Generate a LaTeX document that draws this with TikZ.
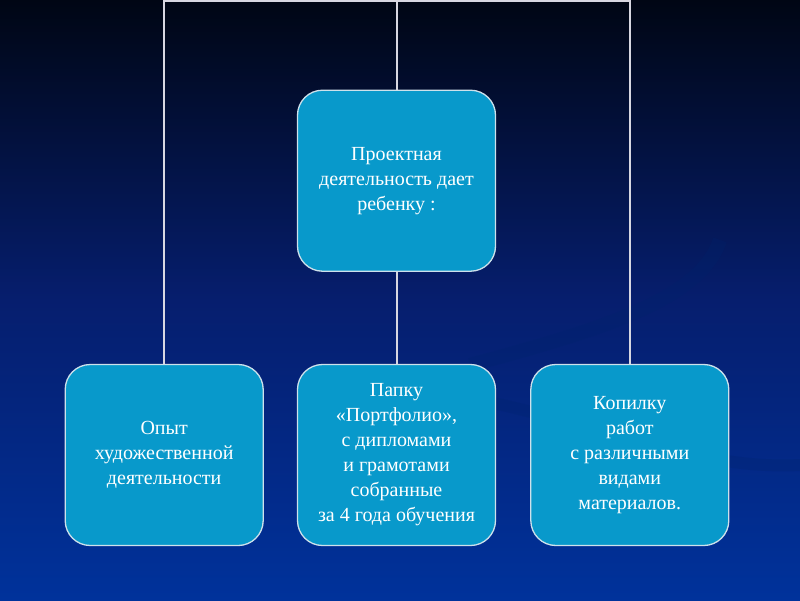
\documentclass[tikz,border=0pt]{standalone}
\usepackage{fontspec}
\setmainfont{Liberation Serif}
\usepackage{tikz}
\usetikzlibrary{positioning}
\usepackage{xcolor}
\definecolor{bgtop}{RGB}{0,6,20}
\definecolor{bgmid}{RGB}{6,30,110}
\definecolor{bgbot}{RGB}{0,50,155}
\definecolor{boxfill}{RGB}{8,153,203}
\definecolor{boxline}{RGB}{205,225,235}
\definecolor{linkcol}{RGB}{215,215,225}

\begin{document}
\begin{tikzpicture}[
  x=1pt, y=-1pt,
  font=\fontsize{20}{25}\selectfont,
  box/.style={draw=boxline, line width=1.3pt, fill=boxfill, rounded corners=25pt,
              align=center, text=white, minimum width=198pt, minimum height=181pt,
              inner sep=2pt},
  link/.style={draw=linkcol, line width=2pt}
]
% background
\shade[top color=bgtop, bottom color=bgbot, middle color=bgmid] (0,0) rectangle (800,600);
\useasboundingbox (0,0) rectangle (800,600);
\draw[bgbot!70!black, line width=14pt, opacity=0.25] (470,365) .. controls (600,330) and (700,300) .. (720,240);
\draw[bgbot!70!black, line width=12pt, opacity=0.25] (480,400) .. controls (620,430) and (700,470) .. (800,465);

\node[box] (mid) at (396.5,455) {Папку\\ «Портфолио»,\\с дипломами\\и грамотами\\собранные\\ за 4 года обучения};
\node[box, left=33pt of mid] (left) {Опыт\\художественной\\деятельности};
\node[box, right=34pt of mid] (right) {Копилку\\ работ\\с различными\\видами\\ материалов.};
\node[box, above=92pt of mid] (top) {Проектная\\деятельность  дает\\ребенку :};

\coordinate (barL) at (left.north |- 0,1);
\coordinate (barR) at (right.north |- 0,1);
\coordinate (barC) at (top.north |- 0,1);

\draw[link] (left.north) -- (barL) -- (barR) -- (right.north);
\draw[link] (top.north) -- (barC);
\draw[link] (top.south) -- (mid.north);
\end{tikzpicture}
\end{document}
